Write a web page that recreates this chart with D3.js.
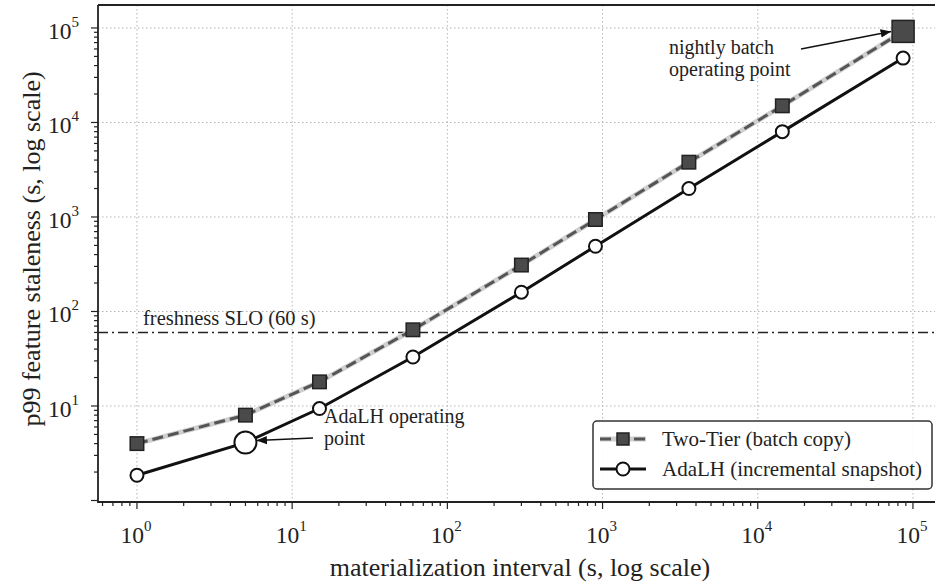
<!DOCTYPE html>
<html>
<head>
<meta charset="utf-8">
<script src="https://cdn.jsdelivr.net/npm/d3@7"></script>
<style>
  body { margin: 0; background: #fff; }
</style>
</head>
<body>
<svg id="chart" width="935" height="584" font-family="'Liberation Serif', 'DejaVu Serif', serif"></svg>
<script>
// materialization intervals (s)
var intervals = [1, 5, 15, 60, 300, 900, 3600, 14400, 86400];
// p99 staleness (s)
var twoTier = [4, 8, 18, 64, 310, 940, 3800, 15000, 92000];
var adaLH = [1.85, 4.1, 9.4, 33, 160, 490, 2000, 8000, 48000];
var sloValue = 60;
var tickExps = [0, 1, 2, 3, 4, 5];
var seriesNames = ["Two-Tier (batch copy)", "AdaLH (incremental snapshot)"];

var svg = d3.select("#chart");
var pLeft = 98, pRight = 938, pTop = 5, pBottom = 502;

var x = d3.scaleLog().domain([0.561, 1.45e5]).range([pLeft, pRight]);
var y = d3.scaleLog().domain([0.964, 1.75e5]).range([pBottom, pTop]);

// grid
var grid = svg.append("g");
tickExps.forEach(function(k) {
  grid.append("line")
    .attr("x1", x(Math.pow(10, k))).attr("x2", x(Math.pow(10, k)))
    .attr("y1", pTop).attr("y2", pBottom)
    .attr("stroke", "#b5b5b5").attr("stroke-width", 1).attr("stroke-dasharray", "1.5,2.5");
  if (k >= 1) {
    grid.append("line")
      .attr("x1", pLeft).attr("x2", pRight)
      .attr("y1", y(Math.pow(10, k))).attr("y2", y(Math.pow(10, k)))
      .attr("stroke", "#b5b5b5").attr("stroke-width", 1).attr("stroke-dasharray", "1.5,2.5");
  }
});

// SLO line
svg.append("line")
  .attr("x1", pLeft).attr("x2", pRight)
  .attr("y1", y(sloValue)).attr("y2", y(sloValue))
  .attr("stroke", "#222").attr("stroke-width", 1.5)
  .attr("stroke-dasharray", "10,4,2,4");
svg.append("text")
  .attr("x", 143).attr("y", y(sloValue) - 7)
  .attr("font-size", 20.5).attr("fill", "#222")
  .text("freshness SLO (60 s)");

var line = d3.line()
  .x(function(d, i) { return x(intervals[i]); })
  .y(function(d) { return y(d); });

// two-tier: light underlay + dark dashes
svg.append("path").datum(twoTier)
  .attr("d", line).attr("fill", "none")
  .attr("stroke", "#cfcfcf").attr("stroke-width", 5);
svg.append("path").datum(twoTier)
  .attr("d", line).attr("fill", "none")
  .attr("stroke", "#555").attr("stroke-width", 3)
  .attr("stroke-dasharray", "11,5");

// adalh solid
svg.append("path").datum(adaLH)
  .attr("d", line).attr("fill", "none")
  .attr("stroke", "#111").attr("stroke-width", 3);

var sqSize = function(i) { return i == 8 ? 22 : 13.5; };
svg.append("g").selectAll("rect")
  .data(twoTier)
  .enter()
  .append("rect")
  .attr("x", function(d, i) { return x(intervals[i]) - sqSize(i) / 2; })
  .attr("y", function(d, i) { return y(d) - sqSize(i) / 2; })
  .attr("width", function(d, i) { return sqSize(i); })
  .attr("height", function(d, i) { return sqSize(i); })
  .attr("fill", "#4a4a4a").attr("stroke", "#222").attr("stroke-width", 1.5);

svg.append("g").selectAll("circle")
  .data(adaLH)
  .enter()
  .append("circle")
  .attr("cx", function(d, i) { return x(intervals[i]); })
  .attr("cy", function(d) { return y(d); })
  .attr("r", function(d, i) { return i == 1 ? 11 : 6.5; })
  .attr("fill", "#fff").attr("stroke", "#111").attr("stroke-width", 2);

// annotations
svg.append("defs").append("marker")
  .attr("id", "arrow").attr("viewBox", "0 0 10 10")
  .attr("refX", 10).attr("refY", 5)
  .attr("markerWidth", 7).attr("markerHeight", 7)
  .attr("orient", "auto")
  .append("path").attr("d", "M0,1 L10,5 L0,9 Z").attr("fill", "#111");

svg.append("line")
  .attr("x1", 801).attr("y1", 49)
  .attr("x2", x(intervals[8]) - 12).attr("y2", y(twoTier[8]))
  .attr("stroke", "#111").attr("stroke-width", 1.5)
  .attr("marker-end", "url(#arrow)");
var t1 = svg.append("text").attr("font-size", 20).attr("fill", "#222");
t1.append("tspan").attr("x", 669).attr("y", 54).text("nightly batch");
t1.append("tspan").attr("x", 669).attr("y", 76).text("operating point");

svg.append("line")
  .attr("x1", 313).attr("y1", 438)
  .attr("x2", x(intervals[1]) + 11).attr("y2", y(adaLH[1]) - 2)
  .attr("stroke", "#111").attr("stroke-width", 1.5)
  .attr("marker-end", "url(#arrow)");
var t2 = svg.append("text").attr("font-size", 20).attr("fill", "#222");
t2.append("tspan").attr("x", 324).attr("y", 423).text("AdaLH operating");
t2.append("tspan").attr("x", 324).attr("y", 445).text("point");

// axes
var minor = [];
for (var k = -1; k <= 5; k++) {
  for (var m = 1; m <= 9; m++) minor.push(m * Math.pow(10, k));
}
var xMinor = minor.filter(function(v) { return v >= 0.561 && v <= 1.45e5; });
var yMinor = minor.filter(function(v) { return v >= 0.964 && v <= 1.75e5; });
var isMajor = function(v) { return Math.abs(Math.log10(v) - Math.round(Math.log10(v))) < 1e-9; };

var xAxis = svg.append("g").attr("transform", "translate(0," + pBottom + ")");
xAxis.selectAll("line").data(xMinor).enter().append("line")
  .attr("x1", function(d) { return x(d); }).attr("x2", function(d) { return x(d); })
  .attr("y1", 0).attr("y2", function(d) { return isMajor(d) ? 7 : 4; })
  .attr("stroke", "#222").attr("stroke-width", 1.2);
xAxis.selectAll("text").data(tickExps).enter().append("text")
  .attr("x", function(d) { return x(Math.pow(10, d)) - 1; })
  .attr("y", 41)
  .attr("text-anchor", "middle")
  .attr("font-size", 23.5).attr("fill", "#222")
  .each(function(d) {
    d3.select(this).append("tspan").text("10");
    d3.select(this).append("tspan").attr("dy", -12).attr("font-size", 15).text(d);
  });

var yAxis = svg.append("g").attr("transform", "translate(" + pLeft + ",0)");
yAxis.selectAll("line").data(yMinor).enter().append("line")
  .attr("y1", function(d) { return y(d); }).attr("y2", function(d) { return y(d); })
  .attr("x1", 0).attr("x2", function(d) { return isMajor(d) ? -7 : -4; })
  .attr("stroke", "#222").attr("stroke-width", 1.2);
yAxis.selectAll("text").data(tickExps.slice(1)).enter().append("text")
  .attr("x", -19)
  .attr("y", function(d) { return y(Math.pow(10, d)) + 11; })
  .attr("text-anchor", "end")
  .attr("font-size", 23.5).attr("fill", "#222")
  .each(function(d) {
    d3.select(this).append("tspan").text("10");
    d3.select(this).append("tspan").attr("dy", -12).attr("font-size", 15).text(d);
  });

// spines
svg.append("path")
  .attr("d", "M" + pLeft + "," + pTop + " H" + pRight + " M" + pLeft + "," + pTop + " V" + pBottom + " H" + pRight)
  .attr("fill", "none").attr("stroke", "#222").attr("stroke-width", 1.8);

// axis labels
svg.append("text")
  .attr("x", 520).attr("y", 576)
  .attr("text-anchor", "middle").attr("font-size", 26).attr("fill", "#222")
  .text("materialization interval (s, log scale)");
svg.append("text")
  .attr("transform", "translate(40,249) rotate(-90)")
  .attr("text-anchor", "middle").attr("font-size", 26).attr("fill", "#222")
  .text("p99 feature staleness (s, log scale)");

// legend
var lg = svg.append("g").attr("transform", "translate(593,421)");
lg.append("rect").attr("width", 339).attr("height", 68).attr("rx", 4)
  .attr("fill", "#fff").attr("fill-opacity", 0.9)
  .attr("stroke", "#333").attr("stroke-width", 1.5);
lg.append("line").attr("x1", 7).attr("x2", 53).attr("y1", 18).attr("y2", 18)
  .attr("stroke", "#cfcfcf").attr("stroke-width", 5);
lg.append("line").attr("x1", 7).attr("x2", 53).attr("y1", 18).attr("y2", 18)
  .attr("stroke", "#555").attr("stroke-width", 3).attr("stroke-dasharray", "11,6");
lg.append("rect").attr("x", 24).attr("y", 12).attr("width", 12).attr("height", 12)
  .attr("fill", "#4a4a4a").attr("stroke", "#222").attr("stroke-width", 1.5);
lg.append("line").attr("x1", 7).attr("x2", 53).attr("y1", 48).attr("y2", 48)
  .attr("stroke", "#111").attr("stroke-width", 3);
lg.append("circle").attr("cx", 30).attr("cy", 48).attr("r", 6.5)
  .attr("fill", "#fff").attr("stroke", "#111").attr("stroke-width", 2);
lg.selectAll("text.lbl").data(seriesNames).enter().append("text")
  .attr("x", 69).attr("y", function(d, i) { return 25 + i * 30; })
  .attr("font-size", 21).attr("fill", "#222")
  .text(function(d) { return d; });
</script>
</body>
</html>
